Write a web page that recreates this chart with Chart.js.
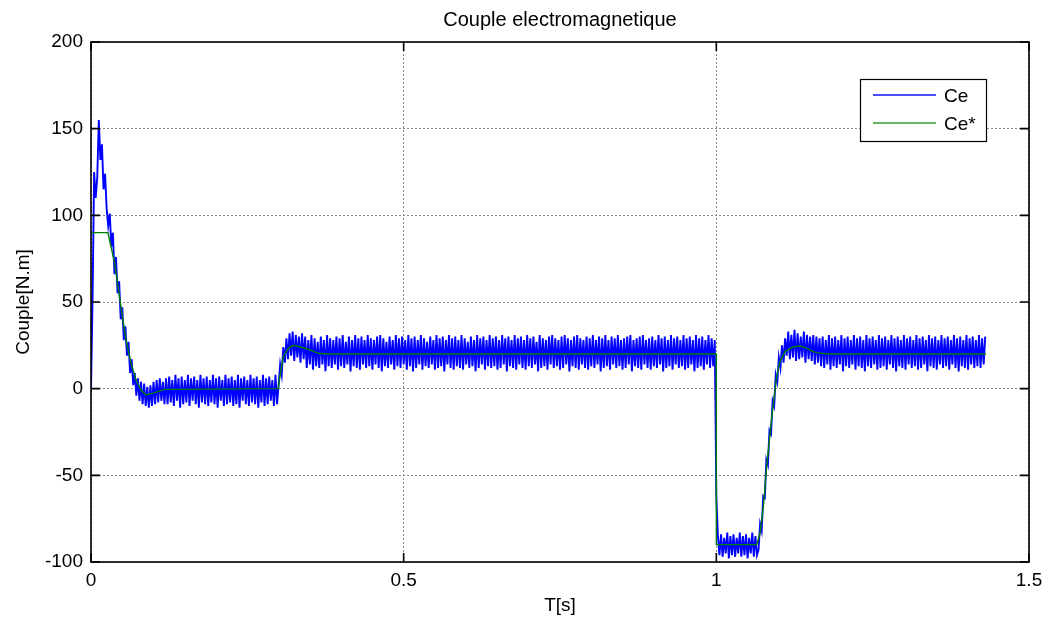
<!DOCTYPE html>
<html><head><meta charset="utf-8">
<script src="https://cdn.jsdelivr.net/npm/chart.js@4.4.0/dist/chart.umd.min.js"></script>
<style>html,body{margin:0;padding:0;background:#fff;overflow:hidden}canvas{display:block}</style>
</head><body>
<canvas id="c" width="1053" height="618"></canvas>
<script>
const chartTitle = 'Couple electromagnetique';
const xTitle = 'T[s]';
const yTitle = 'Couple[N.m]';
const xTickValues = [0, 0.5, 1, 1.5];
const xTickLabels = ['0', '0.5', '1', '1.5'];
const yTickValues = [-100, -50, 0, 50, 100, 150, 200];
const yTickLabels = ['-100', '-50', '0', '50', '100', '150', '200'];
const seriesNames = ['Ce', 'Ce*'];

// Ce : measured torque, sampled every ceDt seconds
const ceDt = 0.0025;
const ceStart = [0,52,125,110,122,155,132,141,115,124,104,94,101,82,90,66,76,55,62,40,47,28,36,19,27,9,17,2,9,-4,6,-7,4,-9,3,-10,1,-11,2,-10,4,-9,5,-8,6,-7,4,-9];
const ceZero = [6,-9,7,-8,5,-10,8,-7,6,-11,7,-9,5,-8,8,-10,6,-7,7,-9,
  5,-11,8,-8,6,-9,7,-10,5,-8,8,-9,6,-11,7,-7,5,-10,8,-9,
  6,-8,7,-10,5,-9,8,-11,6,-7,7,-9,5,-10,8,-8,6,-9,7,-11,
  5,-8,8,-10,6,-9,7,-7,5,-10,8,-9];
const ceRise1 = [2,14,8,24,15,29,17,32,19,33,16,31,18,30,15,32,17];
const ceLoad = [30,12,28,14,31,11,29,13,27,12,30,14,28,10,31,13,29,12,28,14,
  30,11,29,13,31,12,27,14,30,10,28,13,31,12,29,11,30,14,28,12,
  31,13,29,11,28,14,30,12,31,10,29,13,27,12,30,14,28,11,31,13,
  29,12,30,14,28,11,31,13,29,10,30,12,28,14,31,11,29,13,27,12,
  30,14,28,11,31,12,29,13,30,10,28,14,31,12,29,11,30,13,28,12,
  31,11,29,14,27,12,30,13,28,10,31,12,29,14,30,11,28,13,31,12,
  29,13,30,11,28,12,31,14,29,10,30,13,28,12,31,11,29,14,30,12,
  28,11,31,13,29,12,30,14,27,10,31,12,29,13,28,11,30,14,31,12,
  29,13,28,11,30,12,31,14,29,10,28,13,30,12,31,11,29,14,28,12,
  30,11,29,13,31,12,28,14,30,10,29,12,31,13,28,11,30,14,29,12,
  31,13,28,11,29,12,30,14,31,10,28,13,29,12,30,11,31,14,28,12,
  29,11,30,13,28,12,31,14,29,10,30,12,28,13,31,11,29,14,30,12,
  28,13,31,11,29,12,30,14,28,10,31,12,29,13,30,11,28,14,31,12,
  29,13,28];
const ceStep = [-62];
const ceNeg = [-85,-96,-84,-97,-86,-95,-83,-98,-85,-96,-84,-97,-86,-95,-83,-97,-85,-96,-84,-98,-86,-95,-83,-97,-85,-96];
const ceRise2 = [-93,-78,-82,-62,-63,-41,-44,-24,-26,-7,-10,8,4,18,12,25,15,29,19];
const ceEnd = [33,17,31,18,34,16,32,17,30,18,33,15,31,17,30,16,31,14,30,15,
  29,13,30,12,28,14,31,11,29,13,30,12,28,14,31,10,29,13,30,12,
  28,14,31,11,29,13,30,12,28,10,31,13,29,12,30,14,28,11,31,12,
  29,13,30,11,28,14,31,12,29,10,30,13,28,12,31,11,29,14,30,12,
  28,13,31,11,29,12,30,14,28,10,31,13,29,12,30,11,28,14,31,12,
  29,13,30,11,28,14,31,12,29,10,30,13,28,12,31,11,29,14,30,12,
  28,13,31,12,29,14,30];

// Ce* : reference torque
const refT = [0,0.027,0.038,0.048,0.056,0.064,0.072,0.08,0.088,0.102,0.118,0.2996,0.302,0.3075,0.3156,0.3236,0.337,0.3506,0.3635,0.377,1.0,1.0,1.0646,1.0699,1.0752,1.0805,1.0859,1.0912,1.0965,1.1018,1.1098,1.1232,1.1338,1.145,1.155,1.166,1.18,1.431];
const refV = [90,90,72,47,28,14.6,5,-0.8,-3.6,-2.3,-0.4,0,6.9,18.5,23.3,25,23.9,22.3,20.4,20,20,-90,-90,-83.4,-68,-45,-25.7,-8.4,6.9,15.6,21.4,24.2,24.6,23.3,21.4,20.4,20,20];

const ceValues = [].concat(ceStart, ceZero, ceRise1, ceLoad, ceStep, ceNeg, ceRise2, ceEnd);
const ceData = ceValues.map((v, i) => ({x: i * ceDt, y: v}));
const refData = refT.map((t, i) => ({x: t, y: refV[i]}));

const FONT = "'Liberation Sans', Arial, Helvetica, sans-serif";
Chart.defaults.font.family = FONT;
Chart.defaults.color = '#000';

const frame = {
  id: 'frame',
  afterDatasetsDraw(chart) {
    const {ctx, chartArea: a, scales} = chart;
    ctx.save();
    ctx.strokeStyle = '#000';
    ctx.lineWidth = 1.6;
    ctx.beginPath();
    const L = 9;
    xTickValues.forEach(v => {
      const px = scales.x.getPixelForValue(v);
      ctx.moveTo(px, a.bottom); ctx.lineTo(px, a.bottom - L);
      ctx.moveTo(px, a.top); ctx.lineTo(px, a.top + L);
    });
    yTickValues.forEach(v => {
      const py = scales.y.getPixelForValue(v);
      ctx.moveTo(a.left, py); ctx.lineTo(a.left + L, py);
      ctx.moveTo(a.right, py); ctx.lineTo(a.right - L, py);
    });
    ctx.stroke();
    ctx.strokeRect(a.left, a.top, a.right - a.left, a.bottom - a.top);
    ctx.restore();
  },
  afterDraw(chart) {
    const {ctx, chartArea: a} = chart;
    const bx = a.right - 169, by = a.top + 37, bw = 126, bh = 62;
    ctx.save();
    ctx.fillStyle = '#fff';
    ctx.fillRect(bx, by, bw, bh);
    ctx.strokeStyle = '#000';
    ctx.lineWidth = 1.2;
    ctx.strokeRect(bx + 0.5, by + 0.5, bw, bh);
    const rows = [{c: '#1010ff', y: by + 16}, {c: '#30a030', y: by + 44}];
    ctx.font = '19px ' + FONT;
    ctx.textBaseline = 'middle';
    ctx.textAlign = 'left';
    rows.forEach((r, i) => {
      ctx.strokeStyle = r.c;
      ctx.lineWidth = 1.3;
      ctx.beginPath();
      ctx.moveTo(bx + 13, r.y); ctx.lineTo(bx + 76, r.y);
      ctx.stroke();
      ctx.fillStyle = '#000';
      ctx.fillText(seriesNames[i], bx + 84, r.y + 2);
    });
    ctx.restore();
  }
};

new Chart(document.getElementById('c'), {
  type: 'line',
  data: {
    datasets: [
      {label: seriesNames[0], data: ceData, borderColor: '#0000ff', borderWidth: 1.9, pointRadius: 0, tension: 0, order: 2},
      {label: seriesNames[1], data: refData, borderColor: '#008000', borderWidth: 1.4, pointRadius: 0, tension: 0, order: 1}
    ]
  },
  options: {
    responsive: false,
    animation: false,
    events: [],
    layout: {padding: {left: 0, right: 24, top: 0, bottom: 0}},
    plugins: {
      legend: {display: false},
      tooltip: {enabled: false},
      title: {display: true, text: chartTitle, fullSize: false, font: {size: 20, weight: 'normal'}, color: '#000', padding: {top: 8, bottom: 10}}
    },
    scales: {
      x: {
        type: 'linear', min: 0, max: 1.5,
        afterBuildTicks: s => { s.ticks = xTickValues.map(v => ({value: v})); },
        afterFit: s => { s.height = 56; },
        ticks: {font: {size: 19}, padding: 7, maxRotation: 0, callback: (v, i) => xTickLabels[i]},
        grid: {color: '#8a8a8a', lineWidth: 1, drawTicks: false},
        border: {display: false, dash: [2, 2]},
        title: {display: true, text: xTitle, font: {size: 19}, padding: {top: 0, bottom: 1}}
      },
      y: {
        type: 'linear', min: -100, max: 200,
        afterBuildTicks: s => { s.ticks = yTickValues.map(v => ({value: v})); },
        afterFit: s => { s.width = 91; },
        ticks: {font: {size: 19}, padding: 8, callback: (v, i) => yTickLabels[i]},
        grid: {color: '#8a8a8a', lineWidth: 1, drawTicks: false},
        border: {display: false, dash: [2, 2]},
        title: {display: true, text: yTitle, font: {size: 19}, padding: {top: 12, bottom: 0}}
      }
    }
  },
  plugins: [frame]
});
</script>
</body></html>
